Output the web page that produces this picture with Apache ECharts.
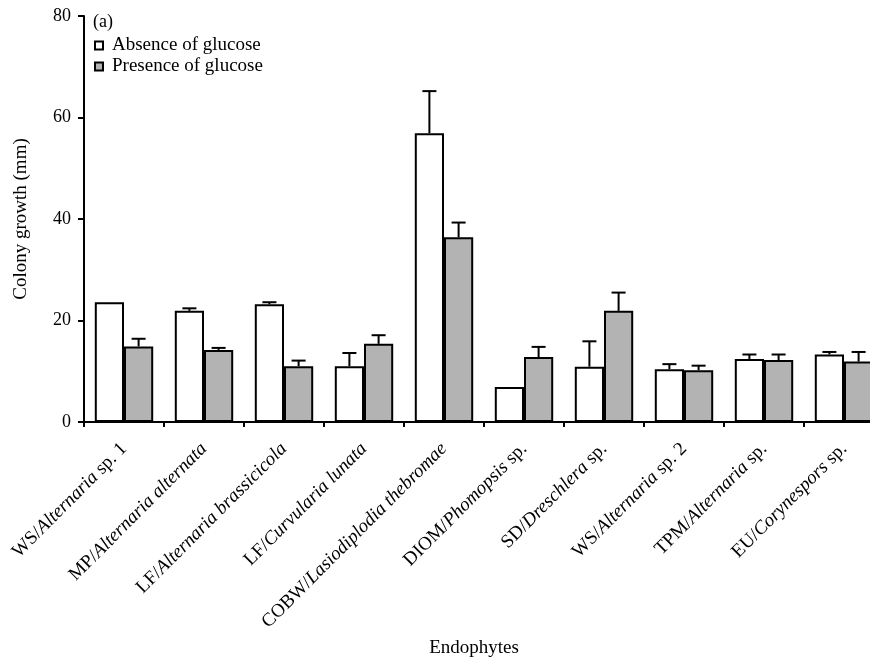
<!DOCTYPE html>
<html>
<head>
<meta charset="utf-8">
<script src="https://cdn.jsdelivr.net/npm/echarts@6/dist/echarts.min.js"></script>
<style>html,body{margin:0;padding:0;background:#fff;}#c{width:870px;height:658px;}</style>
</head>
<body>
<div id="c"></div>
<script>
// Category labels: upright prefix, italic name, upright suffix
var catPrefix = ['WS/', 'MP/', 'LF/', 'LF/', 'COBW/', 'DIOM/', 'SD/', 'WS/', 'TPM/', 'EU/'];
var catItalic = ['Alternaria', 'Alternaria alternata', 'Alternaria brassicicola', 'Curvularia lunata', 'Lasiodiplodia thebromae', 'Phomopsis', 'Dreschlera', 'Alternaria', 'Alternaria', 'Corynespors'];
var catSuffix = [' sp. 1', '', '', '', '', ' sp.', ' sp.', ' sp. 2', ' sp.', ' sp.'];
var categories = catPrefix.map(function (p, i) { return p + catItalic[i] + catSuffix[i]; });

var seriesNames = ['Absence of glucose', 'Presence of glucose'];
var absenceValues = [23.6, 21.9, 23.2, 11.0, 56.9, 6.9, 10.9, 10.4, 12.4, 13.3];
var absenceErrors = [0, 0.5, 0.4, 2.6, 8.3, 0, 5.0, 1.0, 0.9, 0.5];
var presenceValues = [14.9, 14.2, 11.0, 15.4, 36.4, 12.8, 21.9, 10.2, 12.2, 11.9];
var presenceErrors = [1.5, 0.4, 1.1, 1.7, 2.9, 2.0, 3.6, 0.9, 1.1, 1.9];

var yTicks = { min: 0, max: 80, interval: 20 };
var yAxisTitle = 'Colony growth (mm)';
var xAxisTitle = 'Endophytes';
var panelLabel = '(a)';

var FONT = 'Liberation Serif';
var CAT_GAP = 0.27;

function errData(vals, errs) {
  return vals.map(function (v, i) { return [i, v + errs[i], v]; });
}

function makeErrorRender(side) {
  return function (params, api) {
    var idx = api.value(0);
    var top = api.value(1);
    var base = api.value(2);
    if (top - base <= 0) return null;
    var catW = api.size([1, 0])[0];
    var barW = catW * (1 - CAT_GAP) / 2;
    var pTop = api.coord([idx, top]);
    var pBase = api.coord([idx, base]);
    var x = pTop[0] + side * barW / 2;
    var cap = 7;
    var style = { stroke: '#000', lineWidth: 2 };
    return {
      type: 'group',
      children: [
        { type: 'line', shape: { x1: x, y1: pBase[1], x2: x, y2: pTop[1] }, style: style },
        { type: 'line', shape: { x1: x - cap, y1: pTop[1], x2: x + cap, y2: pTop[1] }, style: style }
      ]
    };
  };
}

var chart = echarts.init(document.getElementById('c'), null, { renderer: 'canvas' });
chart.setOption({
  backgroundColor: '#ffffff',
  animation: false,
  textStyle: { fontFamily: FONT, color: '#000' },
  title: {
    text: panelLabel,
    left: 88, top: 8,
    textStyle: { fontFamily: FONT, fontSize: 18, fontWeight: 'normal', color: '#000' }
  },
  legend: {
    orient: 'vertical',
    left: 89, top: 31,
    itemWidth: 8, itemHeight: 8, itemGap: 2,
    icon: 'rect',
    data: [
      { name: seriesNames[0], itemStyle: { color: '#ffffff', borderColor: '#000', borderWidth: 2 } },
      { name: seriesNames[1], itemStyle: { color: '#b3b3b3', borderColor: '#000', borderWidth: 2 } }
    ],
    textStyle: { fontFamily: FONT, fontSize: 19, color: '#000', padding: [0, 0, 0, 4] }
  },
  grid: { left: 84, right: -14, top: 16, bottom: 236, containLabel: false, outerBoundsMode: 'none' },
  xAxis: {
    type: 'category',
    data: categories,
    name: xAxisTitle,
    nameLocation: 'middle',
    nameGap: 210,
    nameTextStyle: { fontFamily: FONT, fontSize: 19, color: '#000', padding: [0, 20, 0, 0] },
    axisLine: { lineStyle: { color: '#000', width: 2 } },
    axisTick: { show: true, alignWithLabel: false, length: 5, lineStyle: { color: '#000', width: 2 } },
    axisLabel: {
      interval: 0,
      rotate: 45,
      margin: 24,
      formatter: function (v, i) {
        var s = '{n|' + catPrefix[i] + '}{i|' + catItalic[i] + '}';
        if (catSuffix[i]) s += '{n|' + catSuffix[i] + '}';
        return s;
      },
      rich: {
        n: { fontFamily: FONT, fontSize: 19, color: '#000' },
        i: { fontFamily: FONT, fontSize: 19, fontStyle: 'italic', color: '#000' }
      }
    }
  },
  yAxis: {
    type: 'value',
    min: yTicks.min, max: yTicks.max, interval: yTicks.interval,
    name: yAxisTitle,
    nameLocation: 'middle',
    nameGap: 53,
    nameTextStyle: { fontFamily: FONT, fontSize: 19, color: '#000' },
    axisLine: { show: true, lineStyle: { color: '#000', width: 2 } },
    axisTick: { show: true, length: 6, lineStyle: { color: '#000', width: 2 } },
    axisLabel: { fontFamily: FONT, fontSize: 18, color: '#000', margin: 13 },
    splitLine: { show: false }
  },
  series: [
    {
      name: seriesNames[0], type: 'bar', data: absenceValues,
      barGap: '0%', barCategoryGap: (CAT_GAP * 100) + '%',
      itemStyle: { color: '#ffffff', borderColor: '#000', borderWidth: 2 }
    },
    {
      name: seriesNames[1], type: 'bar', data: presenceValues,
      barGap: '0%', barCategoryGap: (CAT_GAP * 100) + '%',
      itemStyle: { color: '#b3b3b3', borderColor: '#000', borderWidth: 2 }
    },
    {
      type: 'custom', name: 'errA', data: errData(absenceValues, absenceErrors),
      renderItem: makeErrorRender(-1), encode: { x: 0, y: 1 }, z: 3, silent: true
    },
    {
      type: 'custom', name: 'errP', data: errData(presenceValues, presenceErrors),
      renderItem: makeErrorRender(1), encode: { x: 0, y: 1 }, z: 3, silent: true
    }
  ]
});
</script>
</body>
</html>
